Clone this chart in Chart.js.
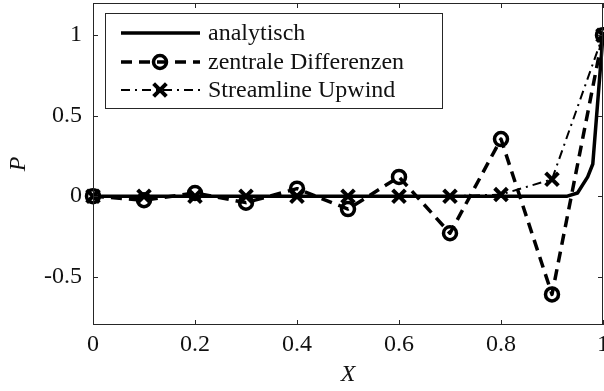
<!DOCTYPE html>
<html>
<head>
<meta charset="utf-8">
<script src="https://cdn.jsdelivr.net/npm/chart.js@4/dist/chart.umd.min.js"></script>
<style>
  html, body { margin: 0; padding: 0; background: #fff; }
  #wrap { width: 604px; height: 391px; position: relative; }
</style>
</head>
<body>
<div id="wrap"><canvas id="c" width="604" height="391"></canvas></div>
<script>
// ---- data ----
const seriesNames = ["analytisch", "zentrale Differenzen", "Streamline Upwind"];
const gridX = [0, 0.1, 0.2, 0.3, 0.4, 0.5, 0.6, 0.7, 0.8, 0.9, 1];
const analytX = [0, 0.1, 0.2, 0.3, 0.4, 0.5, 0.6, 0.7, 0.8, 0.9, 0.93, 0.95, 0.97, 0.98, 1];
const analytY = [0, 0, 0, 0, 0, 0, 0, 0, 0, 0, 0, 0.02, 0.12, 0.2, 1];
const zentralY = [0, -0.025, 0.02, -0.04, 0.047, -0.08, 0.12, -0.23, 0.355, -0.61, 1];
const upwindY = [0, 0, 0, 0, 0, 0, 0, 0, 0.01, 0.105, 1];
const xTicks = [0, 0.2, 0.4, 0.6, 0.8, 1];
const yTicks = [-0.5, 0, 0.5, 1];
const xTitle = "X";
const yTitle = "P";

const axisColor = "#262626";
const FONT = "'Liberation Serif', 'Times New Roman', serif";

function pts(xs, ys) { return xs.map((x, i) => ({ x: x, y: ys[i] })); }

const boxTicks = {
  id: 'boxTicks',
  afterDatasetsDraw(chart) {
    const { ctx, chartArea: a, scales } = chart;
    ctx.save();
    ctx.strokeStyle = axisColor;
    ctx.lineWidth = 1;
    ctx.setLineDash([]);
    ctx.strokeRect(a.left + 0.5, a.top + 0.5, a.right - a.left - 1, a.bottom - a.top - 1);
    const L = 5;
    ctx.beginPath();
    scales.x.ticks.forEach(t => {
      const px = Math.round(scales.x.getPixelForValue(t.value)) + 0.5;
      ctx.moveTo(px, a.bottom); ctx.lineTo(px, a.bottom - L);
      ctx.moveTo(px, a.top); ctx.lineTo(px, a.top + L);
    });
    scales.y.ticks.forEach(t => {
      const py = Math.round(scales.y.getPixelForValue(t.value)) + 0.5;
      ctx.moveTo(a.left, py); ctx.lineTo(a.left + L, py);
      ctx.moveTo(a.right, py); ctx.lineTo(a.right - L, py);
    });
    ctx.stroke();
    ctx.restore();
  }
};

function drawMarker(ctx, style, r, bw, x, y) {
  ctx.save();
  ctx.setLineDash([]);
  ctx.lineWidth = bw;
  ctx.strokeStyle = '#000';
  ctx.beginPath();
  if (style === 'circle') {
    ctx.arc(x, y, r, 0, Math.PI * 2);
  } else if (style === 'crossRot') {
    const d = r * Math.SQRT1_2;
    ctx.moveTo(x - d, y - d); ctx.lineTo(x + d, y + d);
    ctx.moveTo(x - d, y + d); ctx.lineTo(x + d, y - d);
  }
  ctx.stroke();
  ctx.restore();
}

const boxLegend = {
  id: 'boxLegend',
  afterDraw(chart) {
    const ctx = chart.ctx;
    const bx = 105, by = 13, bw = 338, bh = 96;
    const rows = [33, 62, 90];
    ctx.save();
    ctx.fillStyle = '#fff';
    ctx.fillRect(bx, by, bw, bh);
    ctx.strokeStyle = axisColor;
    ctx.lineWidth = 1;
    ctx.strokeRect(bx + 0.5, by + 0.5, bw - 1, bh - 1);
    chart.data.datasets.forEach((ds, i) => {
      const y = rows[i];
      ctx.save();
      ctx.strokeStyle = ds.borderColor;
      ctx.lineWidth = ds.borderWidth;
      ctx.setLineDash(ds.borderDash || []);
      ctx.beginPath();
      ctx.moveTo(121, y); ctx.lineTo(200, y);
      ctx.stroke();
      ctx.restore();
      if (ds.pointRadius > 0) drawMarker(ctx, ds.pointStyle, ds.pointRadius, ds.pointBorderWidth, 160, y);
      ctx.fillStyle = '#111';
      ctx.font = "24px " + FONT;
      ctx.textBaseline = 'middle';
      ctx.textAlign = 'left';
      ctx.fillText(ds.label, 208, y + 1);
    });
    ctx.restore();
  }
};

function noPad(s) {
  s.paddingLeft = 0; s.paddingRight = 0; s.paddingTop = 0; s.paddingBottom = 0;
}

new Chart(document.getElementById('c'), {
  type: 'line',
  data: {
    datasets: [
      {
        label: seriesNames[0],
        data: pts(analytX, analytY),
        borderColor: '#000', borderWidth: 3.5,
        pointRadius: 0, tension: 0, order: 3, clip: false
      },
      {
        label: seriesNames[1],
        data: pts(gridX, zentralY),
        borderColor: '#000', borderWidth: 3.5, borderDash: [11, 7],
        pointStyle: 'circle', pointRadius: 6.5, pointBorderWidth: 3.5,
        pointBackgroundColor: 'rgba(0,0,0,0)', pointBorderColor: '#000',
        tension: 0, order: 2, clip: false
      },
      {
        label: seriesNames[2],
        data: pts(gridX, upwindY),
        borderColor: '#000', borderWidth: 2, borderDash: [9, 5, 2, 5],
        pointStyle: 'crossRot', pointRadius: 9, pointBorderWidth: 4,
        pointBackgroundColor: 'rgba(0,0,0,0)', pointBorderColor: '#000',
        tension: 0, order: 1, clip: false
      }
    ]
  },
  options: {
    responsive: false,
    animation: false,
    devicePixelRatio: 1,
    layout: { autoPadding: false, padding: { top: 3, right: 1, left: 0, bottom: 0 } },
    plugins: { legend: { display: false }, tooltip: { enabled: false } },
    elements: { line: { borderCapStyle: 'butt', borderJoinStyle: 'round' } },
    scales: {
      x: {
        type: 'linear', min: 0, max: 1,
        afterBuildTicks: s => { s.ticks = xTicks.map(v => ({ value: v })); },
        afterFit: s => { s.height = 66; noPad(s); },
        grid: { display: false, drawTicks: false },
        border: { display: false },
        ticks: {
          color: '#111', font: { family: FONT, size: 24, lineHeight: 1 }, padding: 8,
          maxRotation: 0, autoSkip: false,
          callback: v => String(v)
        },
        title: { display: true, text: xTitle, color: '#111',
                 font: { family: FONT, size: 24, style: 'italic', lineHeight: 1 },
                 padding: { top: 4, bottom: 4 } }
      },
      y: {
        type: 'linear', min: -0.8, max: 1.2,
        afterBuildTicks: s => { s.ticks = yTicks.map(v => ({ value: v })); },
        afterFit: s => { s.width = 93; noPad(s); },
        grid: { display: false, drawTicks: false },
        border: { display: false },
        ticks: {
          color: '#111', font: { family: FONT, size: 24, lineHeight: 1 }, padding: 11,
          autoSkip: false,
          callback: v => String(v)
        },
        title: { display: true, text: yTitle, color: '#111',
                 font: { family: FONT, size: 24, style: 'italic', lineHeight: 1 },
                 padding: { top: 7, bottom: 7 } }
      }
    }
  },
  plugins: [boxTicks, boxLegend]
});
</script>
</body>
</html>
